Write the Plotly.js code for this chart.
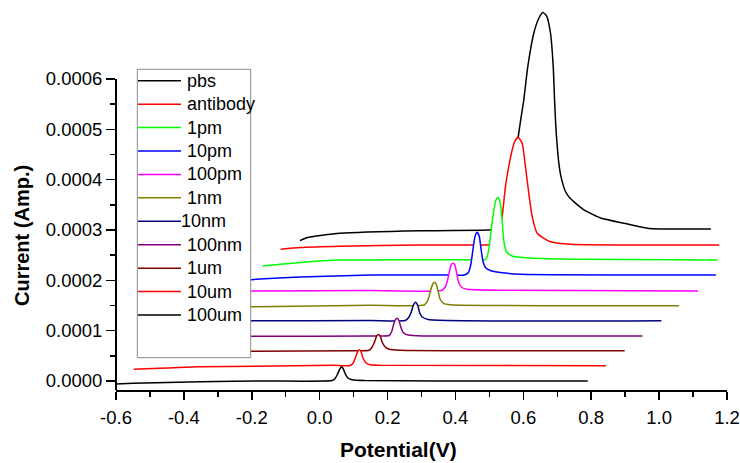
<!DOCTYPE html>
<html>
<head>
<meta charset="utf-8">
<script src="https://cdn.plot.ly/plotly-3.0.1.min.js"></script>
<style>
  html, body { margin: 0; padding: 0; background: #ffffff; }
  #chart { width: 740px; height: 463px; }
</style>
</head>
<body>
<div id="chart"></div>
<script>
// Differential pulse scans, stacked as a waterfall (each scan shifted up and right).
const seriesNames  = ['pbs', 'antibody', '1pm', '10pm', '100pm', '1nm', '10nm', '100nm', '1um', '10um', '100um'];
const seriesColors = ['#000000', '#ff0000', '#00ff00', '#0000ff', '#ff00ff', '#808000', '#000080', '#800080', '#800000', '#ff0000', '#000000'];

// Potential (V) and current (A) of each scan, as stacked.
const pbsX = [-0.058, -0.038, 0.060, 0.296, 0.497, 0.510, 0.530, 0.545, 0.560, 0.574, 0.5848, 0.5925, 0.6013, 0.6131, 0.6308, 0.6456, 0.6574,
              0.6684, 0.6801, 0.6881, 0.6920, 0.6970, 0.7058, 0.7130, 0.7244, 0.7392, 0.7785, 0.8277, 0.8965, 0.9656, 1.005, 1.1525];
const pbsY = [0.0002788, 0.0002847, 0.0002935, 0.0002986, 0.0003000, 0.0003010, 0.0003050, 0.0003150, 0.0003600, 0.0004200, 0.0004842, 0.0005200, 0.0005583, 0.0006245, 0.0006909, 0.0007207, 0.0007322,
              0.0007253, 0.0006909, 0.0006245, 0.0005583, 0.0004922, 0.0004260, 0.0004000, 0.0003760, 0.0003620, 0.0003400, 0.0003240, 0.0003134, 0.0003034, 0.0003020, 0.0003020];

const antibodyX = [-0.1148, -0.0579, 0.0602, 0.2964, 0.4883, 0.5030, 0.5178, 0.5296, 0.5376, 0.5473, 0.5570, 0.5671, 0.5754, 0.5848,
                   0.5966, 0.6063, 0.6161, 0.6261, 0.6409, 0.6604, 0.6801, 0.7392, 1.177];
const antibodyY = [0.0002617, 0.0002651, 0.0002677, 0.0002702, 0.0002702, 0.0002712, 0.0002802, 0.0003040, 0.0003265, 0.0003861, 0.0004258, 0.0004590, 0.0004769, 0.0004842,
                   0.0004723, 0.0004258, 0.0003730, 0.0003265, 0.0002935, 0.0002835, 0.0002768, 0.0002716, 0.0002702];

const pm1X = [-0.168, -0.0579, 0.0602, 0.2964, 0.4736, 0.4883, 0.4942, 0.5001, 0.5060, 0.5134, 0.5193, 0.5246, 0.5296, 0.5340, 0.5385, 0.5429, 0.5503, 0.5680, 0.6211, 0.7687, 1.1722];
const pm1Y = [0.0002285, 0.0002355, 0.0002404, 0.0002410, 0.0002410, 0.0002410, 0.0002484, 0.0002702, 0.0003040, 0.0003398, 0.0003596, 0.0003646, 0.0003606, 0.0003438, 0.0003100, 0.0002762, 0.0002563, 0.0002478, 0.0002444, 0.0002418, 0.0002404];

const pm10X = [-0.225, -0.1878, -0.0579, 0.1488, 0.3554, 0.4263, 0.4381, 0.4455, 0.4514, 0.4573, 0.4638, 0.4700, 0.4750, 0.4809, 0.4883, 0.5030, 0.5325, 0.5916, 1.1672];
const pm10Y = [0.0001995, 0.0002021, 0.0002066, 0.0002106, 0.0002106, 0.0002106, 0.0002156, 0.0002325, 0.0002603, 0.0002861, 0.0002955, 0.0002881, 0.0002643, 0.0002384, 0.0002255, 0.0002196, 0.0002156, 0.0002120, 0.0002106];

const pm100X = [-0.28, -0.1878, 0.1488, 0.3584, 0.3702, 0.3776, 0.3835, 0.3879, 0.3929, 0.3982, 0.4041, 0.4100, 0.4189, 0.4351, 0.5325, 1.115];
const pm100Y = [0.0001780, 0.0001788, 0.0001798, 0.0001798, 0.0001868, 0.0002027, 0.0002216, 0.0002315, 0.0002339, 0.0002305, 0.0002126, 0.0001947, 0.0001858, 0.0001822, 0.0001802, 0.0001788];

const nm1X = [-0.335, -0.1878, 0.1488, 0.3082, 0.3170, 0.3230, 0.3289, 0.3342, 0.3386, 0.3436, 0.3495, 0.3554, 0.3652, 0.3849, 1.0589];
const nm1Y = [0.0001465, 0.0001476, 0.0001504, 0.0001510, 0.0001580, 0.0001699, 0.0001848, 0.0001937, 0.0001961, 0.0001918, 0.0001768, 0.0001619, 0.0001544, 0.0001516, 0.0001496];

const nm10X = [-0.39, -0.1878, 0.1488, 0.2521, 0.2624, 0.2698, 0.2757, 0.2825, 0.2890, 0.2949, 0.3023, 0.3200, 1.0069];
const nm10Y = [0.0001185, 0.0001196, 0.0001200, 0.0001202, 0.0001262, 0.0001371, 0.0001500, 0.0001564, 0.0001500, 0.0001351, 0.0001272, 0.0001222, 0.0001198];

const nm100X = [-0.445, -0.1878, 0.1488, 0.2049, 0.2123, 0.2182, 0.2235, 0.2285, 0.2335, 0.2388, 0.2462, 0.2580, 0.2866, 0.9509];
const nm100Y = [0.0000880, 0.0000888, 0.0000894, 0.0000904, 0.0000984, 0.0001133, 0.0001222, 0.0001246, 0.0001202, 0.0001073, 0.0000964, 0.0000918, 0.0000900, 0.0000894];

const um1X = [-0.5, -0.1878, 0.100, 0.1458, 0.1547, 0.1621, 0.1680, 0.1733, 0.1783, 0.1842, 0.1916, 0.2049, 0.2373, 0.8986];
const um1Y = [0.0000588, 0.0000592, 0.0000600, 0.0000610, 0.0000676, 0.0000785, 0.0000894, 0.0000924, 0.0000894, 0.0000775, 0.0000686, 0.0000630, 0.0000610, 0.0000602];

const um10X = [-0.548, -0.353, -0.186, 0.040, 0.0897, 0.0986, 0.1054, 0.1119, 0.1172, 0.1222, 0.1281, 0.1370, 0.1488, 0.1783, 0.8434];
const um10Y = [0.0000232, 0.0000284, 0.0000292, 0.0000312, 0.0000308, 0.0000358, 0.0000467, 0.0000586, 0.0000622, 0.0000576, 0.0000447, 0.0000358, 0.0000322, 0.0000312, 0.0000304];

const um100X = [-0.6, -0.55, -0.353, -0.156, 0.0366, 0.0455, 0.0528, 0.0587, 0.0638, 0.0691, 0.0750, 0.0824, 0.0956, 0.134, 0.5325, 0.79];
const um100Y = [-0.0000060, -0.0000046, -0.0000014, 0.0000000, 0.0000010, 0.0000050, 0.0000139, 0.0000229, 0.0000284, 0.0000248, 0.0000149, 0.0000064, 0.0000026, 0.0000010, 0.0000000, 0.0000000];

const xTickVals = [-0.6, -0.4, -0.2, 0.0, 0.2, 0.4, 0.6, 0.8, 1.0, 1.2];
const xTickText = ['-0.6', '-0.4', '-0.2', '0.0', '0.2', '0.4', '0.6', '0.8', '1.0', '1.2'];
const xMinorVals = [-0.5, -0.3, -0.1, 0.1, 0.3, 0.5, 0.7, 0.9, 1.1];
const yTickVals = [0, 0.0001, 0.0002, 0.0003, 0.0004, 0.0005, 0.0006];
const yTickText = ['0.0000', '0.0001', '0.0002', '0.0003', '0.0004', '0.0005', '0.0006'];
const yMinorVals = [0.00005, 0.00015, 0.00025, 0.00035, 0.00045, 0.00055];

const seriesX = [pbsX, antibodyX, pm1X, pm10X, pm100X, nm1X, nm10X, nm100X, um1X, um10X, um100X];
const seriesY = [pbsY, antibodyY, pm1Y, pm10Y, pm100Y, nm1Y, nm10Y, nm100Y, um1Y, um10Y, um100Y];

// Plot-area geometry (pixels) used to place the legend block and the titles.
const M = { l: 116, r: 13, t: 4, b: 73 };
const W = 740 - M.l - M.r, H = 463 - M.t - M.b;
const px = x => (x - M.l) / W;
const py = y => (463 - M.b - y) / H;

const FONT = 'Liberation Sans, Arial, sans-serif';

// Back scans are drawn first; every scan hides what lies behind it with a white fill.
const traces = seriesNames.map((name, i) => ({
  type: 'scatter',
  mode: 'lines',
  name: name,
  x: seriesX[i],
  y: seriesY[i],
  line: { color: seriesColors[i], width: 1.5, shape: 'spline', smoothing: 0.5 },
  fill: 'tozeroy',
  fillcolor: '#ffffff',
  showlegend: false,
  hoverinfo: 'skip'
}));

const yMin = -0.00001788, yMax = 0.000749;

const shapes = [
  // left axis spine, ending at the top labelled tick
  { type: 'line', xref: 'paper', yref: 'y', x0: 0, x1: 0, y0: yMin, y1: 0.0006,
    line: { color: '#000000', width: 2 }, layer: 'above' },
  // legend frame
  { type: 'rect', xref: 'paper', yref: 'paper', x0: px(137.3), x1: px(250.7), y0: py(357.7), y1: py(69.3),
    fillcolor: '#ffffff', line: { color: '#8a8a8a', width: 1 }, layer: 'above' }
];

const annotations = [];
const rowTop = 80.7, rowStep = 23.43;
seriesNames.forEach((name, i) => {
  const yRow = rowTop + i * rowStep;
  shapes.push({ type: 'line', xref: 'paper', yref: 'paper', x0: px(138), x1: px(181), y0: py(yRow), y1: py(yRow),
                line: { color: seriesColors[i], width: 1.5 }, layer: 'above' });
  annotations.push({ xref: 'paper', yref: 'paper', x: px(name === '10nm' ? 178.5 : 184.5), y: py(yRow),
                     xanchor: 'left', yanchor: 'middle', showarrow: false, text: name,
                     font: { family: FONT, size: 18, color: '#000000' } });
});

annotations.push({ xref: 'paper', yref: 'paper', x: px(398), y: py(449), xanchor: 'center', yanchor: 'middle',
                   showarrow: false, text: 'Potential(V)', font: { family: FONT, size: 21, color: '#000000', weight: 'bold' } });
annotations.push({ xref: 'paper', yref: 'paper', x: px(22), y: py(236), xanchor: 'center', yanchor: 'middle', textangle: -90,
                   showarrow: false, text: 'Current (Amp.)', font: { family: FONT, size: 20, color: '#000000', weight: 'bold' } });

const layout = {
  width: 740, height: 463,
  margin: M,
  paper_bgcolor: '#ffffff', plot_bgcolor: '#ffffff',
  showlegend: false,
  font: { family: FONT, size: 18, color: '#000000' },
  xaxis: {
    range: [-0.6, 1.2], showgrid: false, zeroline: false,
    showline: true, linecolor: '#000000', linewidth: 2,
    ticks: 'outside', ticklen: 8, tickwidth: 1.5, tickcolor: '#000000',
    tickmode: 'array', tickvals: xTickVals, ticktext: xTickText,
    ticklabelstandoff: 2,
    tickfont: { family: FONT, size: 18.5, color: '#000000' },
    minor: { tickmode: 'array', tickvals: xMinorVals, ticks: 'outside', ticklen: 5, tickwidth: 1.5, tickcolor: '#000000', showgrid: false }
  },
  yaxis: {
    range: [yMin, yMax], showgrid: false, zeroline: false,
    showline: false,
    ticks: 'outside', ticklen: 9, tickwidth: 1.5, tickcolor: '#000000',
    tickmode: 'array', tickvals: yTickVals, ticktext: yTickText,
    tickfont: { family: FONT, size: 18.5, color: '#000000' },
    minor: { tickmode: 'array', tickvals: yMinorVals, ticks: 'outside', ticklen: 5, tickwidth: 1.5, tickcolor: '#000000', showgrid: false }
  },
  shapes: shapes,
  annotations: annotations
};

Plotly.newPlot('chart', traces, layout, { staticPlot: true, displayModeBar: false });
</script>
</body>
</html>
